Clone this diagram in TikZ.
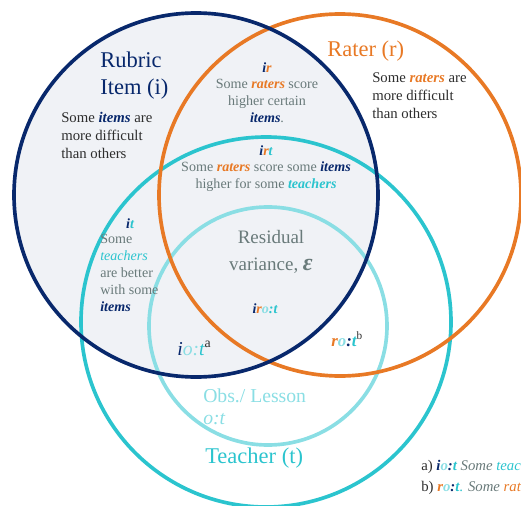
\documentclass[tikz,border=0pt]{standalone}
\usepackage{fontspec}
\setmainfont{Liberation Serif}
\definecolor{itemblue}{RGB}{8,40,108}
\definecolor{raterorange}{RGB}{232,121,37}
\definecolor{teachcyan}{RGB}{43,196,206}
\definecolor{obscyan}{RGB}{138,222,228}
\definecolor{notegray}{RGB}{105,122,122}
\definecolor{darktext}{RGB}{45,45,45}
\definecolor{itemfill}{RGB}{240,242,246}
\newcommand{\bi}[1]{\textbf{\textit{#1}}}
\begin{document}
\begin{tikzpicture}[x=0.025cm, y=-0.025cm,
    ring/.style={line width=2.6pt},
    note/.style={inner sep=0pt, font=\fontsize{10}{12}\selectfont, text=notegray},
    body/.style={inner sep=0pt, font=\fontsize{10.5}{12.9}\selectfont, text=darktext, align=left},
    title/.style={inner sep=0pt, font=\fontsize{16}{19.2}\selectfont, align=left}]
                \useasboundingbox (0,0) rectangle (521,506);
                \clip (0,0) rectangle (521,506);

                % Rubric item circle (shaded)
                \fill[itemfill] (196,195) circle (182);

                % Teacher and observation circles
                \draw[ring, teachcyan] (266,322) circle (185);
                \draw[ring, obscyan] (268,326) circle (119);

                % Rater circle
                \draw[ring, raterorange] (340,195) circle (181);

                % Rubric item circle
                \draw[ring, itemblue] (196,195) circle (182);

                % Main effects
                \node[title, text=itemblue, anchor=north west] (rubric) at (100,52) {Rubric\\Item (i)};
                \node[body, anchor=north west] (itemnote) at (61,112)
                    {Some \textcolor{itemblue}{\bi{items}} are\\more difficult\\than others};
                \node[title, text=raterorange, anchor=north west] (rater) at (327,41) {Rater (r)};
                \node[body, anchor=north west] (raternote) at (372,72)
                    {Some \textcolor{raterorange}{\bi{raters}} are\\more difficult\\than others};

                % Two-way interactions
                \node[note, align=center, anchor=north] (ir) at (267,62)
                    {\bi{\textcolor{itemblue}{i}\textcolor{raterorange}{r}}\\
                     Some \textcolor{raterorange}{\bi{raters}} score\\higher certain\\
                     \textcolor{itemblue}{\bi{items}}.};
                \node[note, align=center, anchor=north] (irt) at (266,145)
                    {\bi{\textcolor{itemblue}{i}\textcolor{raterorange}{r}\textcolor{teachcyan}{t}}\\
                     Some \textcolor{raterorange}{\bi{raters}} score some \textcolor{itemblue}{\bi{items}}\\
                     higher for some \textcolor{teachcyan}{\bi{teachers}}};
                \node[note, anchor=base] (it) at (130,228)
                    {\bi{\textcolor{itemblue}{i}\textcolor{teachcyan}{t}}};
                \node[note, align=left, anchor=north west] (itnote) at (100,234)
                    {Some\\\textcolor{teachcyan}{\textit{teachers}}\\are better\\with some\\
                     \textcolor{itemblue}{\bi{items}}};

                % Residual
                \node[inner sep=0pt, align=center, text=notegray, anchor=north,
                      font=\fontsize{13.5}{19}\selectfont] (resid) at (271,230)
                    {Residual\\variance, {\fontsize{17}{19}\selectfont\bi{ε}}};
                \node[note, anchor=base] (iro) at (265,313)
                    {\bi{\textcolor{itemblue}{i}\textcolor{raterorange}{r}\textcolor{obscyan}{o}\textcolor{teachcyan}{:t}}};
                \node[inner sep=0pt, anchor=base west, font=\fontsize{14}{16}\selectfont] (iot) at (177,355)
                    {\textit{\textcolor{itemblue}{i}\textcolor{obscyan}{o:}\textcolor{teachcyan}{t}}\textsuperscript{\textcolor{darktext}{a}}};
                \node[inner sep=0pt, anchor=base west, font=\fontsize{12}{14}\selectfont] (rot) at (331,346)
                    {\bi{\textcolor{raterorange}{r}\textcolor{obscyan}{o}\textcolor{itemblue}{:}\textcolor{teachcyan}{t}}\textsuperscript{\textcolor{darktext}{b}}};

                % Nested facets
                \node[inner sep=0pt, align=left, text=obscyan, anchor=north west,
                      font=\fontsize{14}{15.6}\selectfont] (obs) at (203,389)
                    {Obs./ Lesson\\\textit{o:t}};
                \node[inner sep=0pt, text=teachcyan, anchor=base west,
                      font=\fontsize{16}{18}\selectfont] (teacher) at (205,463) {Teacher (t)};

                % Footnotes
                \node[inner sep=0pt, anchor=base west, text=darktext, font=\fontsize{10.5}{12}\selectfont] (fna) at (421,470)
                    {a) \bi{\textcolor{itemblue}{i}\textcolor{obscyan}{o}\textcolor{itemblue}{:}\textcolor{teachcyan}{t}}
                     \textcolor{notegray}{\textit{Some}} \textcolor{teachcyan}{\textit{teachers}}};
                \node[inner sep=0pt, anchor=base west, text=darktext, font=\fontsize{10.5}{12}\selectfont] (fnb) at (421,491)
                    {b) \bi{\textcolor{raterorange}{r}\textcolor{obscyan}{o}\textcolor{itemblue}{:}\textcolor{teachcyan}{t}}\textcolor{teachcyan}{.}
                     \textcolor{notegray}{\textit{Some}} \textcolor{raterorange}{\textit{raters}}};
\end{tikzpicture}
\end{document}
